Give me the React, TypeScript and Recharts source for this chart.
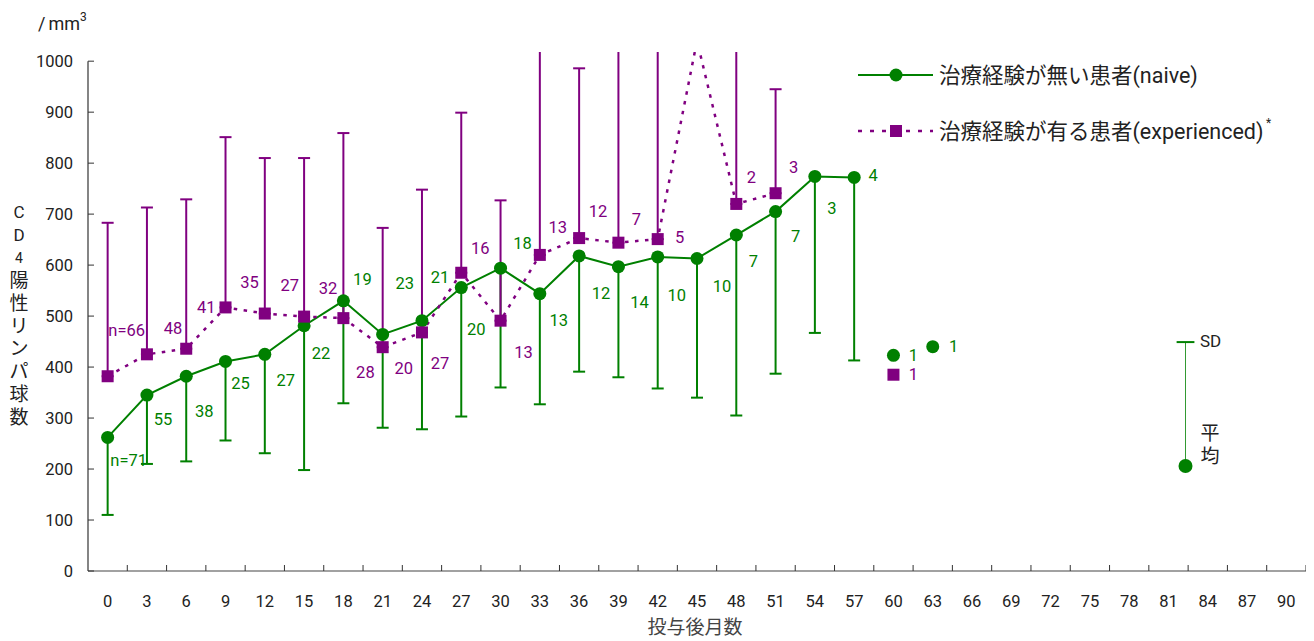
import { LineChart, Line, XAxis, YAxis, ErrorBar, ReferenceLine, ReferenceDot, Customized } from 'recharts';

// months after start of treatment (one row per visit)
const months = [0, 3, 6, 9, 12, 15, 18, 21, 24, 27, 30, 33, 36, 39, 42, 45, 48, 51, 54, 57, 60, 63];

// naive patients: mean CD4, SD (drawn downwards), n
const naiveMean = [262, 345, 382, 411, 425, 481, 530, 464, 491, 556, 594, 544, 618, 597, 616, 613, 659, 705, 774, 772, null, null];
const naiveSD = [152, 135, 167, 155, 194, 283, 201, 183, 213, 253, 234, 217, 227, 217, 258, 273, 354, 318, 307, 359, null, null];
const naiveSingle = [null, null, null, null, null, null, null, null, null, null, null, null, null, null, null, null, null, null, null, null, 423, 440];
const naiveN = [71, 55, 38, 25, 27, 22, 19, 23, 21, 20, 18, 13, 12, 14, 10, 10, 7, 7, 3, 4, 1, 1];

// experienced patients: mean CD4, SD (drawn upwards), n
const expMean = [382, 425, 436, 517, 505, 499, 496, 439, 468, 585, 491, 620, 653, 644, 651, 1040, 720, 741, null, null, null, null];
const expSD = [301, 288, 293, 334, 305, 311, 363, 234, 280, 314, 236, 480, 333, 520, 450, 0, 600, 204, null, null, null, null];
const expSingle = [null, null, null, null, null, null, null, null, null, null, null, null, null, null, null, null, null, null, null, null, 385, null];
const expN = [66, 48, 41, 35, 27, 32, 28, 20, 27, 16, 13, 13, 12, 7, 5, null, 2, 3, null, null, 1, null];

const xTicks = [0, 3, 6, 9, 12, 15, 18, 21, 24, 27, 30, 33, 36, 39, 42, 45, 48, 51, 54, 57, 60, 63, 66, 69, 72, 75, 78, 81, 84, 87, 90];
const yTicks = [0, 100, 200, 300, 400, 500, 600, 700, 800, 900, 1000];

// key marker (mean / SD) in the lower right
const keyMonth = 82.3;
const keyMean = 206;
const keyTop = 449;

// label offsets (px) from each point
const naiveLabelOffset = [[21, 23], [16, 24], [18, 35], [15, 22], [21, 26], [17, 28], [19, -21], [22, -51], [18, -43], [15, 42], [22, -25], [19, 27], [22, 38], [21, 36], [19, 39], [25, 28], [17, 26], [20, 25], [17, 32], [19, -2], [20, 0], [21, 0]];
const expLabelOffset = [[19, -46], [26, -26], [20, -41], [24, -25], [25, -28], [24, -28], [22, 54], [21, 21], [18, 31], [19, -24], [23, 32], [18, -27], [19, -27], [18, -23], [22, -2], [0, 0], [15, -26], [18, -26], [0, 0], [0, 0], [20, 0], [0, 0]];

const GREEN = '#008000';
const PURPLE = '#800080';
const FONT = "Roboto, 'Noto Sans CJK JP', sans-serif";
const W = 1314;
const H = 641;
const LEFT = 88;
const RIGHT = 8;
const TOP = 52; // plot top; marks above it are cut off as in the original
const HALF_STEP = (1.5 * (W - LEFT - RIGHT)) / 93;

const data = months.map((m, i) => ({
  month: m,
  naive: naiveMean[i],
  naiveErr: naiveMean[i] == null ? null : [naiveSD[i], 0],
  naiveOne: naiveSingle[i],
  exp: expMean[i],
  expErr: expMean[i] == null ? null : [0, expSD[i]],
  expOne: expSingle[i],
}));

const label = (n: number | null, i: number, x: number, y: number, off: number[], color: string) => {
  if (n == null) return null;
  return (
    <text x={x + off[0]} y={y + off[1]} textAnchor="middle" dominantBaseline="central" fontSize={16.5} fill={color} fontFamily={FONT}>
      {i === 0 ? `n=${n}` : n}
    </text>
  );
};

const naiveDot = (p: any) => {
  const { cx, cy, index, value } = p;
  if (cx == null || cy == null || value == null) return <g key={`nd${index}`} />;
  return (
    <g key={`nd${index}`}>
      <circle cx={cx} cy={cy} r={6.5} fill={GREEN} />
      {label(naiveN[index], index, cx, cy, naiveLabelOffset[index], GREEN)}
    </g>
  );
};

const expDot = (p: any) => {
  const { cx, cy, index, value } = p;
  if (cx == null || cy == null || value == null) return <g key={`ed${index}`} />;
  return (
    <g key={`ed${index}`}>
      <rect x={cx - 6} y={cy - 6} width={12} height={12} fill={PURPLE} />
      {label(expN[index], index, cx, cy, expLabelOffset[index], PURPLE)}
    </g>
  );
};

const XTick = ({ x, y, payload }: any) => (
  <g>
    <line x1={x + HALF_STEP} x2={x + HALF_STEP} y1={y} y2={y - 6} stroke="#333" />
    <text x={x} y={y + 30} textAnchor="middle" dominantBaseline="central" fontSize={16.5} fill="#222" fontFamily={FONT}>
      {payload.value}
    </text>
  </g>
);

const YTick = ({ x, y, payload }: any) => (
  <g>
    <line x1={x} x2={x + 6} y1={y} y2={y} stroke="#333" />
    <text x={x - 15} y={y} textAnchor="end" dominantBaseline="central" fontSize={16.5} fill="#222" fontFamily={FONT}>
      {payload.value}
    </text>
  </g>
);

const yTitle = ['C', 'D', '4', '陽', '性', 'リ', 'ン', 'パ', '球', '数'];

const Annotations = () => (
  <g fontFamily={FONT} fill="#222">
    {yTitle.map((c, i) => (
      <text key={c + i} x={19} y={212 + i * 22.8} textAnchor="middle" dominantBaseline="central" fontSize={i === 2 ? 14 : i < 2 ? 17 : 19}>
        {c}
      </text>
    ))}
    <text x={695} y={627} textAnchor="middle" dominantBaseline="central" fontSize={19} fill="#444">投与後月数</text>
    <text x={1200} y={341} dominantBaseline="central" fontSize={17}>SD</text>
    <text x={1210} y={433} textAnchor="middle" dominantBaseline="central" fontSize={19}>平</text>
    <text x={1210} y={456} textAnchor="middle" dominantBaseline="central" fontSize={19}>均</text>
    {/* legend */}
    <line x1={858} x2={933} y1={75} y2={75} stroke={GREEN} strokeWidth={2} />
    <circle cx={896} cy={75} r={6.5} fill={GREEN} />
    <text x={939} y={75} dominantBaseline="central" fontSize={21.5}>治療経験が無い患者(naive)</text>
    <line x1={858} x2={933} y1={131} y2={131} stroke={PURPLE} strokeWidth={2.5} strokeDasharray="4 8" />
    <rect x={890} y={125} width={12} height={12} fill={PURPLE} />
    <text x={939} y={131} dominantBaseline="central" fontSize={21.5}>治療経験が有る患者(experienced)</text>
    <text x={1266} y={123} dominantBaseline="central" fontSize={12}>*</text>
  </g>
);

export default function App() {
  return (
    <div style={{ position: 'relative', marginTop: -8, marginLeft: -8, width: W, height: H, background: '#fff' }}>
      <svg width={W} height={TOP} style={{ position: 'absolute', left: 0, top: 0 }}>
        <text x={38} y={30} fontSize={18} fontFamily={FONT} fill="#222">
          /<tspan dx={3}>mm</tspan>
          <tspan dy={-9} fontSize={12}>3</tspan>
        </text>
      </svg>
      <div style={{ position: 'absolute', left: 0, top: TOP, width: W, height: H - TOP, overflow: 'hidden' }}>
        <div style={{ position: 'relative', top: -TOP }}>
          <LineChart width={W} height={H} data={data} margin={{ top: TOP, right: RIGHT, bottom: 0, left: 0 }}>
            <XAxis
              dataKey="month"
              type="number"
              domain={[-1.5, 91.5]}
              allowDataOverflow
              ticks={xTicks}
              interval={0}
              height={70}
              tickSize={0}
              tickMargin={0}
              tickLine={false}
              axisLine={{ stroke: '#444', strokeWidth: 1.2 }}
              tick={<XTick />}
            />
            <YAxis
              type="number"
              domain={[0, 1018]}
              allowDataOverflow
              ticks={yTicks}
              interval={0}
              width={LEFT}
              tickSize={0}
              tickMargin={0}
              tickLine={false}
              axisLine={false}
              tick={<YTick />}
            />
            <ReferenceLine segment={[{ x: -1.5, y: 0 }, { x: -1.5, y: 1000 }]} stroke="#333" strokeWidth={1.2} ifOverflow="visible" />
            <Line dataKey="naive" stroke={GREEN} strokeWidth={2} dot={naiveDot} activeDot={false} isAnimationActive={false}>
              <ErrorBar dataKey="naiveErr" width={6} strokeWidth={2} stroke={GREEN} direction="y" />
            </Line>
            <Line dataKey="naiveOne" stroke="none" dot={naiveDot} activeDot={false} isAnimationActive={false} />
            <Line dataKey="exp" stroke={PURPLE} strokeWidth={2.5} strokeDasharray="3.5 6.5" dot={expDot} activeDot={false} isAnimationActive={false}>
              <ErrorBar dataKey="expErr" width={6} strokeWidth={2} stroke={PURPLE} direction="y" />
            </Line>
            <Line dataKey="expOne" stroke="none" dot={expDot} activeDot={false} isAnimationActive={false} />
            <ReferenceLine segment={[{ x: keyMonth, y: keyMean }, { x: keyMonth, y: keyTop }]} stroke={GREEN} strokeWidth={1} strokeOpacity={0.8} />
            <ReferenceLine segment={[{ x: keyMonth - 0.68, y: keyTop }, { x: keyMonth + 0.68, y: keyTop }]} stroke={GREEN} strokeWidth={2} />
            <ReferenceDot x={keyMonth} y={keyMean} r={7} fill={GREEN} stroke="none" />
            <Customized component={<Annotations />} />
          </LineChart>
        </div>
      </div>
    </div>
  );
}
